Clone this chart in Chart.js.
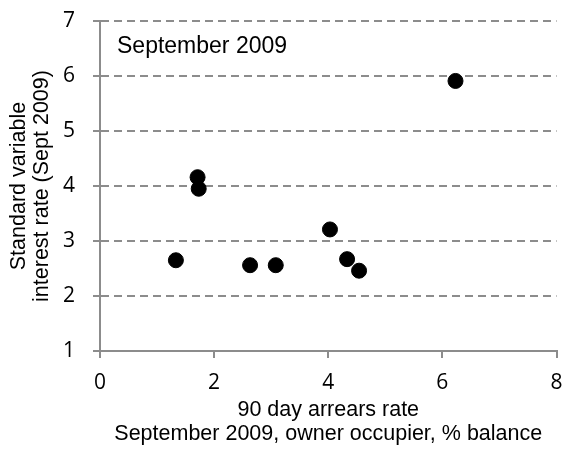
<!DOCTYPE html>
<html>
<head>
<meta charset="utf-8">
<script src="https://cdn.jsdelivr.net/npm/chart.js@4"></script>
<style>
  html, body { margin: 0; padding: 0; background: #fff; }
  #wrap { width: 565px; height: 456px; }
</style>
</head>
<body>
<div id="wrap"><canvas id="grafico_juros"></canvas></div>
<script>
// arrears rate (x) vs standard variable interest rate (y), Sept 2009
const arrearsRate = [1.33, 1.71, 1.73, 2.63, 3.08, 4.03, 4.33, 4.54, 6.23];
const interestRate = [2.65, 4.16, 3.95, 2.56, 2.56, 3.21, 2.67, 2.46, 5.91];
const xTicks = [0, 2, 4, 6, 8];
const yTicks = [1, 2, 3, 4, 5, 6, 7];

const pontos = arrearsRate.map(function (x, i) {
  return { x: x, y: interestRate[i] };
});

// text label in the top-left of the plot
const rotuloPlugin = {
  id: 'rotulo',
  afterDraw(chart) {
    const ctx = chart.ctx;
    const area = chart.chartArea;
    ctx.save();
    ctx.font = '23px "Liberation Sans", Arial, sans-serif';
    ctx.fillStyle = '#000';
    ctx.textBaseline = 'middle';
    ctx.fillText('September 2009', area.left + 17, area.top + 26);
    ctx.restore();
  }
};

const tickFont = { family: '"Open Sans", sans-serif', size: 21 };
const titleFont = { family: '"Liberation Sans", Arial, sans-serif', size: 21.5, lineHeight: 1.1 };

new Chart(document.getElementById('grafico_juros'), {
  type: 'scatter',
  data: {
    datasets: [{
      data: pontos,
      backgroundColor: '#000',
      borderColor: '#000',
      pointRadius: 7.5,
      pointHoverRadius: 7.5
    }]
  },
  options: {
    responsive: true,
    maintainAspectRatio: false,
    animation: false,
    layout: { padding: { top: 21, right: 8, left: 0, bottom: 0 } },
    plugins: {
      legend: { display: false },
      tooltip: { enabled: false }
    },
    scales: {
      x: {
        min: 0,
        max: 8,
        afterBuildTicks: function (axis) {
          axis.ticks = xTicks.map(v => ({ value: v }));
        },
        afterFit: function (axis) {
          axis.height = 105;
          axis.paddingLeft = 0;
          axis.paddingRight = 0;
        },
        grid: {
          drawOnChartArea: false,
          drawTicks: true,
          tickLength: 7,
          tickColor: '#8c8c8c',
          lineWidth: 2
        },
        border: { display: true, color: '#8c8c8c', width: 2 },
        ticks: { color: '#000', font: tickFont, padding: 12 },
        title: {
          display: true,
          text: ['90 day arrears rate', 'September 2009, owner occupier, % balance'],
          color: '#000',
          font: titleFont,
          padding: { top: 6, bottom: 10 }
        }
      },
      y: {
        min: 1,
        max: 7,
        afterBuildTicks: function (axis) {
          axis.ticks = yTicks.map(v => ({ value: v }));
        },
        afterFit: function (axis) {
          axis.width = 100;
          axis.paddingTop = 0;
          axis.paddingBottom = 0;
        },
        grid: {
          color: '#8c8c8c',
          lineWidth: 2,
          drawTicks: true,
          tickLength: 7,
          tickColor: '#8c8c8c',
          tickBorderDash: []
        },
        border: { display: true, color: '#8c8c8c', width: 2, dash: [8, 5] },
        ticks: { color: '#000', font: tickFont, padding: 18 },
        title: {
          display: true,
          text: ['Standard variable', 'interest rate (Sept 2009)'],
          color: '#000',
          font: titleFont,
          padding: { top: 7, bottom: 6 }
        }
      }
    }
  },
  plugins: [rotuloPlugin]
});
</script>
</body>
</html>
